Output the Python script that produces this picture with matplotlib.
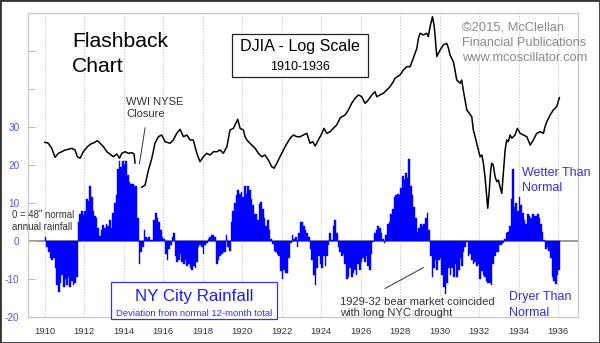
import numpy as np
import matplotlib
matplotlib.use("Agg")
import matplotlib.pyplot as plt
from matplotlib.patches import Rectangle

plt.rcParams['font.family'] = ['Liberation Sans', 'DejaVu Sans']

# ---------------- data ----------------
rain_start_year = 1910
rain_1910 = [1, -1.5, -3, -4.5, -5, -4.5, -7, -11.5, -13.4, -11, -9, -12]
rain_1911 = [-10, -11.5, -9.5, -12, -10.5, -11.5, -11, -9.5, 5, 7.2, 8, 6.8]
rain_1912 = [8, 11, 10.5, 14.5, 11.5, 8, 6.5, 6, 3.5, 1.2, 3, 4.2]
rain_1913 = [3.5, 4.5, 4, 5.5, 3.5, 7.5, 10, 12, 19, 21, 19.5, 21]
rain_1914 = [20, 21, 17.5, 15.5, 15, 15, 14.5, 14.5, 6, -6, -3, -1.5]
rain_1915 = [3, 1, 0.5, 1, 0.3, 0.2, 5.5, 7.5, 6, 5, 3, 1]
rain_1916 = [0.5, -3.5, -5, -2, -1, 1, 2, -4, -5.5, -5, -3.5, -5.5]
rain_1917 = [-6, -5, -6.5, -6, -7, -7.5, -6.5, -7, -5.5, -1.5, -1, -1.5]
rain_1918 = [-3.5, -1, -0.5, 0.5, 1, 1.5, 1.5, 1, -6, -5, -4, -3.5]
rain_1919 = [-3, -3, 1.5, -1.5, -2.5, 5, 8, 10, 12, 13.3, 12.5, 13]
rain_1920 = [11.5, 14.5, 12.5, 14.5, 13.5, 11, 9.5, 7, 7, 5.5, 9.8, 10.3]
rain_1921 = [8.5, 6, 4, 5.5, 3, 0.5, -0.8, -2.5, -3, -3.5, -4, -8]
rain_1922 = [-10, -7.5, -8.5, -8.5, -4.5, -0.5, 1.5, 0.5, 1, -1.5, 2, 5]
rain_1923 = [5, 4, 3, 2, 1, -2, -5, -9, -11.5, -7, -4, -6]
rain_1924 = [-7, -4, -6.5, -4, -1, 2, 0.3, 4, 5.5, 2, -1.5, -3]
rain_1925 = [-4, -3.5, -6, -10, -9.5, -7, -9.5, -8.5, -7.5, -9, -6, -7.5]
rain_1926 = [-5.5, -4.5, -5.5, -4, -6.5, -7.5, -3.5, -0.3, 2, 3, 4, 3.5]
rain_1927 = [2, 0.5, -0.5, 1.5, 4.5, 5, 7, 8.5, 11.5, 12, 12.5, 12]
rain_1928 = [14, 17, 16, 18, 16.5, 21.5, 14.5, 12, 9, 6, 2.5, 3.5]
rain_1929 = [4.5, 4, 4.5, 6, 7.5, 3, -4, -9.5, -7, -5, -7.5, -5]
rain_1930 = [-4.5, -9, -12, -14, -11, -7, -9, -7, -9.5, -6, -9.5, -7.5]
rain_1931 = [-4.5, -6.5, -3, -1.5, -0.3, -4, -3.5, -5, -6, -5.5, -6.5, -6]
rain_1932 = [-10, -8, -9, -9.5, -10.5, -11, -11, -11.5, -6, -4, -3, -3]
rain_1933 = [-1, -1, -0.5, 0.5, 2, 2.5, 4, 11, 19, 9, 10, 8]
rain_1934 = [11.5, 9.5, 7.5, 5.5, 4.5, 7, 6.5, 6, 7, 6.5, 6.5, 7]
rain_1935 = [6, 4.5, 2.5, 0.3, -2, -1.5, -2.5, -4.5, -9.5, -10.5, -11.2, -9]
rain_1936 = [-7.5]

djia_years = [1910.00, 1910.18, 1910.35, 1910.52, 1910.69, 1910.86, 1911.03, 1911.19,
              1911.37, 1911.53, 1911.65, 1911.79, 1911.95, 1912.16, 1912.33, 1912.50,
              1912.66, 1912.80, 1912.97, 1913.14, 1913.31, 1913.47, 1913.65, 1913.78,
              1913.90, 1914.07, 1914.23, 1914.41, 1914.52, 1914.57, 1914.74, 1914.91,
              1915.08, 1915.25, 1915.42, 1915.58, 1915.75, 1915.92, 1916.09, 1916.34,
              1916.51, 1916.68, 1916.85, 1917.02, 1917.19, 1917.36, 1917.52, 1917.70,
              1917.86, 1918.03, 1918.20, 1918.37, 1918.54, 1918.71, 1918.88, 1919.04,
              1919.22, 1919.38, 1919.55, 1919.77, 1919.89, 1920.06, 1920.14, 1920.23,
              1920.39, 1920.65, 1920.82, 1920.99, 1921.15, 1921.32, 1921.49, 1921.61,
              1921.75, 1921.91, 1922.17, 1922.42, 1922.59, 1922.76, 1922.93, 1923.09,
              1923.27, 1923.43, 1923.57, 1923.69, 1923.85, 1924.03, 1924.14, 1924.28,
              1924.45, 1924.61, 1924.78, 1924.95, 1925.04, 1925.21, 1925.37, 1925.54,
              1925.71, 1925.88, 1926.05, 1926.13, 1926.22, 1926.38, 1926.56, 1926.72,
              1926.81, 1926.98, 1927.14, 1927.32, 1927.48, 1927.65, 1927.73, 1927.85,
              1927.99, 1928.16, 1928.33, 1928.50, 1928.66, 1928.84, 1928.92, 1929.00,
              1929.17, 1929.34, 1929.42, 1929.51, 1929.63, 1929.71, 1929.76, 1929.85,
              1930.02, 1930.18, 1930.35, 1930.44, 1930.52, 1930.69, 1930.77, 1930.86,
              1931.03, 1931.11, 1931.19, 1931.28, 1931.37, 1931.62, 1931.70, 1931.79,
              1931.87, 1932.04, 1932.13, 1932.21, 1932.29, 1932.38, 1932.43, 1932.51,
              1932.58, 1932.63, 1932.71, 1932.80, 1932.89, 1932.97, 1933.05, 1933.14,
              1933.22, 1933.31, 1933.39, 1933.47, 1933.56, 1933.65, 1933.73, 1933.81,
              1933.93, 1934.07, 1934.24, 1934.41, 1934.58, 1934.74, 1934.91, 1935.08,
              1935.25, 1935.33, 1935.42, 1935.59, 1935.75, 1935.92, 1936.06]
djia_values = [88.7, 87.7, 82.7, 74.5, 78.0, 79.5, 81.1, 81.7,
               82.7, 81.1, 75.0, 73.7, 79.5, 84.3, 86.9, 88.3,
               90.3, 87.7, 84.3, 79.5, 77.1, 75.0, 77.4, 73.7,
               78.0, 79.5, 78.0, 78.6, 77.4, 69.7, np.nan, 52.6,
               54.0, 64.3, 73.7, 87.7, 94.6, 96.5, 89.3, 87.7,
               91.1, 98.4, 103.1, 94.6, 96.5, 91.1, 91.1, 78.0,
               70.8, 75.0, 78.0, 76.5, 79.5, 79.5, 81.1, 78.0,
               84.3, 102.3, 104.3, 115.8, 104.3, 102.3, 94.6, 91.1,
               87.7, 82.7, 78.0, 75.0, 76.5, 72.2, 66.8, 65.6,
               69.5, 75.0, 84.3, 92.9, 96.5, 94.6, 94.6, 96.5,
               98.4, 87.7, 89.3, 84.9, 91.1, 98.4, 104.3, 98.4,
               100.3, 104.3, 108.4, 117.2, 119.4, 121.8, 129.0, 139.5,
               147.8, 153.6, 150.6, 144.9, 139.5, 144.9, 153.6, 159.6,
               150.6, 153.6, 156.7, 162.8, 169.1, 179.3, 186.5, 190.0,
               193.8, 205.3, 213.4, 213.4, 235.3, 264.2, 296.7, 314.6,
               308.4, 314.6, 302.3, 339.5, 381.0, 346.3, 308.4, 240.0,
               259.1, 274.6, 280.0, 264.2, 244.4, 226.1, 205.3, 182.8,
               176.0, 182.8, 162.8, 144.9, 129.0, 119.4, 102.3, 94.6,
               87.7, 75.0, 76.5, 69.5, 59.5, 47.1, 41.2, 51.0,
               64.3, 69.5, 68.1, 59.5, 56.1, 57.2, 52.9, 49.0,
               61.9, 81.1, 91.1, 89.3, 96.5, 92.9, 94.6, 96.5,
               104.3, 98.4, 96.5, 94.6, 85.9, 91.1, 98.4, 100.3,
               98.4, 106.3, 112.6, 121.8, 129.0, 134.1, 149.0]

x_tick_years = list(range(1910, 1937, 2))
y_ticks = [-20, -10, 0, 10, 20, 30, 40, 50]
y_tick_labels = ['-20', '-10', '0', '10', '20', '30', '', '']

rain = (rain_1910 + rain_1911 + rain_1912 + rain_1913 + rain_1914 + rain_1915 +
        rain_1916 + rain_1917 + rain_1918 + rain_1919 + rain_1920 + rain_1921 +
        rain_1922 + rain_1923 + rain_1924 + rain_1925 + rain_1926 + rain_1927 +
        rain_1928 + rain_1929 + rain_1930 + rain_1931 + rain_1932 + rain_1933 +
        rain_1934 + rain_1935 + rain_1936)
rain_x = rain_start_year + np.arange(len(rain)) / 12.0

# ---------------- figure ----------------
W, H = 600, 343
fig = plt.figure(figsize=(6, 3.43), dpi=100, facecolor='white')

def fx(px):
    return px / W

def fy(py):
    return 1 - py / H

ax = fig.add_axes([fx(28), fy(317), fx(578) - fx(28), fy(13) - fy(317)])
ax.set_xlim(1909.15, 1937.0)
ax.set_ylim(-20, 60)

ax.axhline(0, color='#999999', lw=1.4, zorder=1)
ax.bar(rain_x, rain, width=1 / 12, align='edge', color='#0000ff',
       edgecolor='#0000ff', linewidth=0.3, zorder=2)

ax.set_xticks(x_tick_years)
ax.set_xticklabels([str(y) for y in x_tick_years], fontsize=6.8, color='#333333')
ax.set_yticks(y_ticks)
ax.set_yticklabels(y_tick_labels, fontsize=7.2, color='#5050ff')
ax.tick_params(axis='x', length=0, pad=7)
ax.tick_params(axis='y', direction='in', length=5, color='#bbbbbb', pad=6)
ax.grid(axis='x', linestyle=(0, (1.2, 1.5)), color='#c8c8c8', lw=0.8, zorder=0)
for s in ax.spines.values():
    s.set_color('#cccccc')
    s.set_linewidth(1.0)

# DJIA on log scale
ax2 = ax.twinx()
ax2.set_yscale('log')
ax2.set_ylim(11.66, 398)
ax2.set_xlim(ax.get_xlim())
ax2.plot(djia_years, djia_values, color='black', lw=1.1, zorder=4)
ax2.set_yticks([])
ax2.yaxis.set_minor_locator(matplotlib.ticker.NullLocator())
for s in ax2.spines.values():
    s.set_visible(False)

# annotation lines
ax.plot([1915.08, 1914.79], [29.8, 20.3], color='#333333', lw=0.7, zorder=5)
ax.plot([1927.23, 1929.17], [-12.5, -7.0], color='#333333', lw=0.7, zorder=5)

# ---------------- texts ----------------
def t(px, py, s, **kw):
    fig.text(fx(px), fy(py), s, va='baseline', **kw)

t(72, 47.3, 'Flashback', fontsize=15.2, color='black')
t(72, 72.3, 'Chart', fontsize=15.2, color='black')

fig.patches.append(Rectangle((fx(232.3), fy(76.7)), fx(368.3) - fx(232.3), fy(34.3) - fy(76.7),
                             transform=fig.transFigure, facecolor='white',
                             edgecolor='#222222', lw=0.9, zorder=3))
t(300, 51.5, 'DJIA - Log Scale', fontsize=11.6, color='black', ha='center', zorder=4)
t(300, 69.5, '1910-1936', fontsize=9.0, color='black', ha='center', zorder=4)

t(461.7, 30.7, '\u00a92015, McClellan', fontsize=9.3, color='#8a8a8a')
t(461.7, 45.7, 'Financial Publications', fontsize=9.3, color='#8a8a8a')
t(461.7, 61.2, 'www.mcoscillator.com', fontsize=9.3, color='#8a8a8a')

t(126, 105, 'WWI NYSE', fontsize=8.0, color='#333333')
t(126, 117.3, 'Closure', fontsize=8.0, color='#333333')

t(11.7, 218.3, '0 = 48" normal', fontsize=6.9, color='#333333')
t(11.7, 230, 'annual rainfall', fontsize=6.9, color='#333333')

fig.patches.append(Rectangle((fx(110.7), fy(319)), fx(277.3) - fx(110.7), fy(281.7) - fy(319),
                             transform=fig.transFigure, facecolor='white',
                             edgecolor='#3333ff', lw=0.9, zorder=3))
t(194, 300.5, 'NY City Rainfall', fontsize=12.2, color='#2020e0', ha='center', zorder=4)
t(194, 316, 'Deviation from normal 12-month total', fontsize=6.8, color='#3030f0',
  ha='center', zorder=4)

t(340, 305, '1929-32 bear market coincided', fontsize=8.0, color='#333333')
t(340, 316.3, 'with long NYC drought', fontsize=8.0, color='#333333')

t(521.7, 176, 'Wetter Than', fontsize=9.0, color='#3030e0')
t(521.7, 190.7, 'Normal', fontsize=9.0, color='#3030e0')
t(509.3, 300, 'Dryer Than', fontsize=9.0, color='#3030e0')
t(509.3, 315.5, 'Normal', fontsize=9.0, color='#3030e0')

# outer border
fig.patches.append(Rectangle((0, 0), 1, 1, transform=fig.transFigure, fill=False,
                             edgecolor='#333333', lw=2.0, zorder=10))

fig.savefig('out.png', dpi=100, facecolor='white')
